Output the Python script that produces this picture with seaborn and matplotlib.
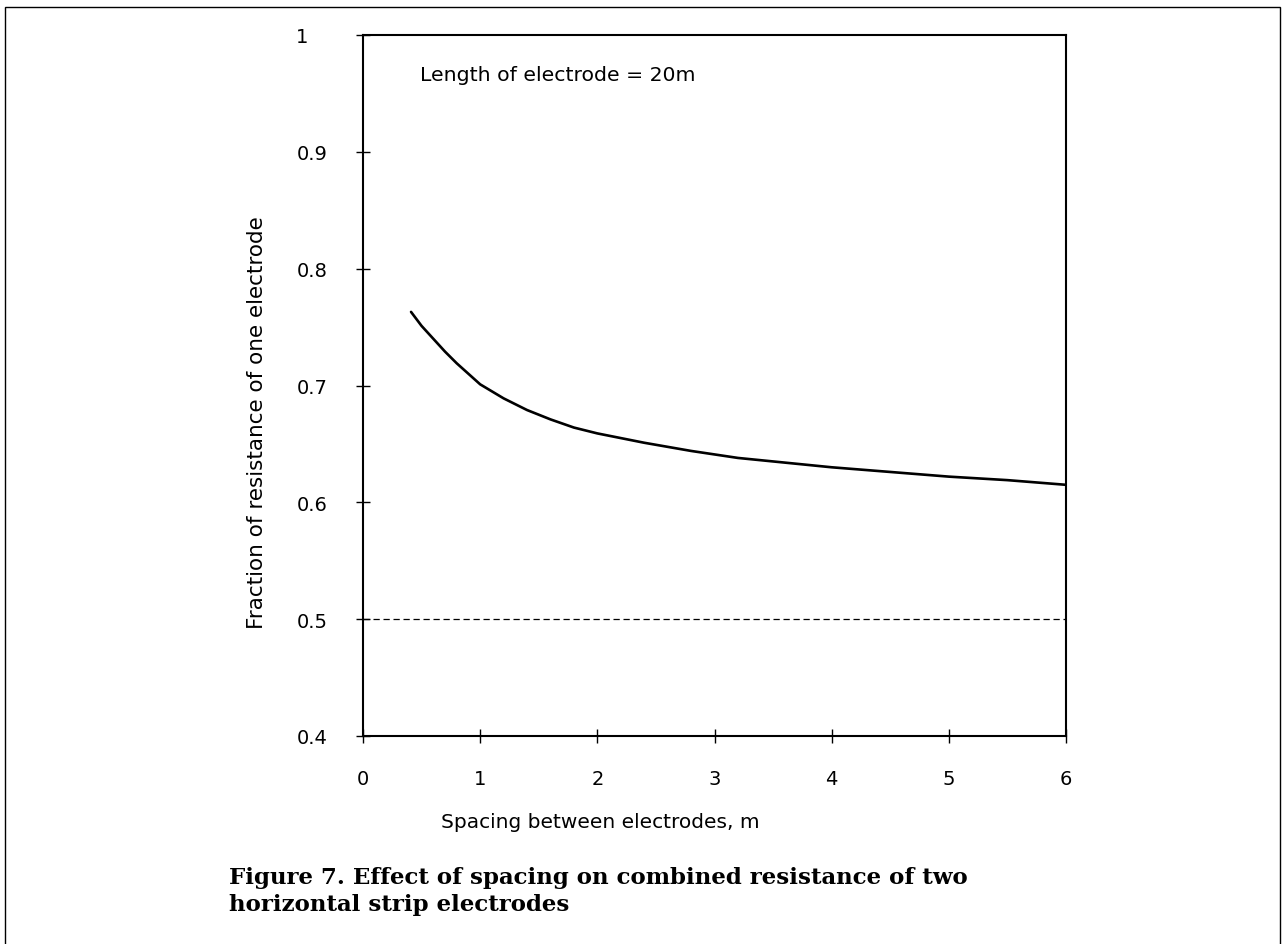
import matplotlib
matplotlib.use("Agg")
import numpy as np
import pandas as pd
import seaborn as sb
import matplotlib.pyplot as plt
from matplotlib.patches import Rectangle

# courbe (espacement en m, fraction de la resistance)
spacing = [0.41, 0.5, 0.6, 0.7, 0.8, 0.9, 1.0, 1.2, 1.4, 1.6, 1.8, 2.0, 2.4,
           2.8, 3.2, 3.6, 4.0, 4.5, 5.0, 5.5, 6.0]
fraction = [0.763, 0.751, 0.740, 0.729, 0.719, 0.710, 0.701, 0.689, 0.679, 0.671,
            0.664, 0.659, 0.651, 0.644, 0.638, 0.634, 0.630, 0.626, 0.622, 0.619,
            0.615]
ref_level = 0.5

x_ticks = [0, 1, 2, 3, 4, 5, 6]
y_ticks = [0.4, 0.5, 0.6, 0.7, 0.8, 0.9, 1.0]
y_ticklabels = ["0.4", "0.5", "0.6", "0.7", "0.8", "0.9", "1"]

note = "Length of electrode = 20m"
x_label = "Spacing between electrodes, m"
y_label = "Fraction of resistance of one electrode"
caption = ["Figure 7. Effect of spacing on combined resistance of two",
           "horizontal strip electrodes"]

df = pd.DataFrame({"spacing": spacing, "fraction": fraction})

sb.set_style("ticks")
plt.rcParams["font.family"] = ["DejaVu Sans"]
plt.rcParams["text.color"] = "black"
plt.rcParams["axes.labelcolor"] = "black"

fig = plt.figure(figsize=(12.82, 9.45), dpi=100)
ax = fig.add_axes([363 / 1282, 1 - 737 / 945, 703 / 1282, 701 / 945])

sb.lineplot(data=df, x="spacing", y="fraction", sort=False, color="black",
            linewidth=1.9, ax=ax)
ax.axhline(ref_level, color="black", linewidth=0.9, linestyle=(0, (5, 3)))

ax.set_xlim(0, 6)
ax.set_ylim(0.4, 1.0)
ax.set_xticks(x_ticks)
ax.set_yticks(y_ticks)
ax.set_yticklabels(y_ticklabels)
ax.tick_params(axis="both", direction="inout", length=10, width=1, colors="black",
               labelsize=14, bottom=True, left=True)
ax.tick_params(axis="x", pad=18.5)
ax.tick_params(axis="y", pad=43)
for lab in ax.get_yticklabels():
    lab.set_horizontalalignment("left")

for sp in ax.spines.values():
    sp.set_visible(True)
    sp.set_color("black")
    sp.set_linewidth(1.5)

ax.set_xlabel(x_label, fontsize=14.5)
ax.set_ylabel(y_label, fontsize=15.5)
ax.yaxis.set_label_coords(-0.137, 0.449)
ax.xaxis.set_label_coords(0.337, -0.109)

ax.text(0.081, 0.943, note, transform=ax.transAxes, fontsize=14.7,
        ha="left", va="center")

# cadre autour de la page
fig.patches.append(Rectangle((5 / 1282, -0.02), 1275 / 1282, 0.02 + 1 - 8 / 945,
                             transform=fig.transFigure, fill=False,
                             edgecolor="black", linewidth=1.0))

fig.text(229 / 1282, 1 - 884 / 945, caption[0], family="DejaVu Serif",
         weight="bold", fontsize=16.5, ha="left", va="baseline")
fig.text(229 / 1282, 1 - 911 / 945, caption[1], family="DejaVu Serif",
         weight="bold", fontsize=16.5, ha="left", va="baseline")

plt.savefig("out.png", dpi=100)
